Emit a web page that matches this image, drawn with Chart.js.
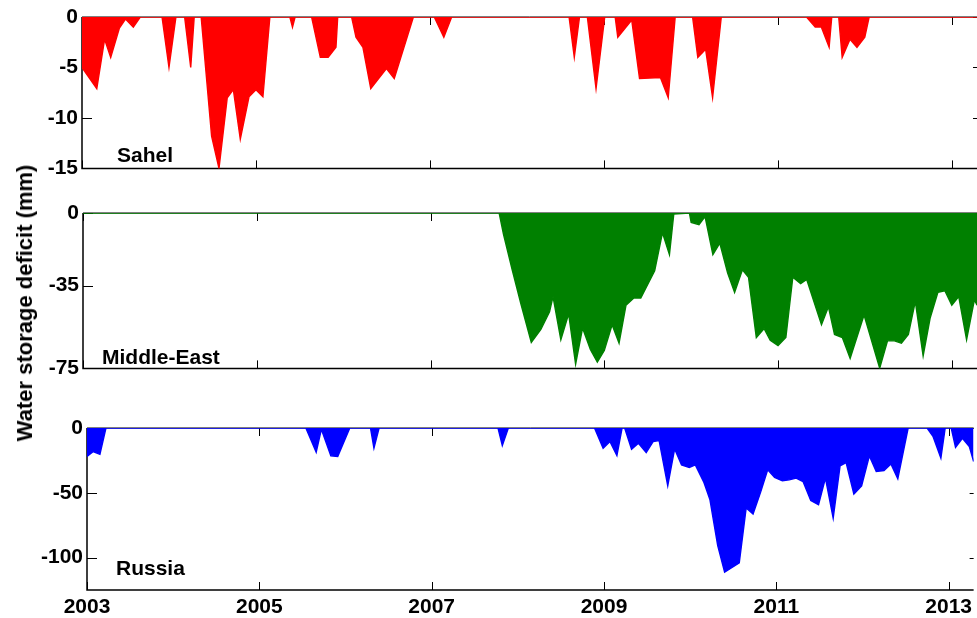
<!DOCTYPE html>
<html>
<head>
<meta charset="utf-8">
<script src="https://cdn.jsdelivr.net/npm/chart.js@4.4.0/dist/chart.umd.min.js"></script>
<style>
html, body { margin:0; padding:0; background:#fff; width:977px; height:618px; overflow:hidden; font-family:"Liberation Sans", Arial, sans-serif; }
canvas { position:absolute; left:0; }
.lbl { position:absolute; font-weight:bold; font-size:21px; line-height:1; color:#000; white-space:nowrap; }
#ylab { position:absolute; left:25px; top:303px; transform:translate(-50%,-50%) rotate(-90deg); font-weight:bold; font-size:22px; line-height:1; white-space:nowrap; }
</style>
</head>
<body>
<canvas id="sahel" width="977" height="185" style="top:0px"></canvas>
<canvas id="mideast" width="977" height="190" style="top:195px"></canvas>
<canvas id="russia" width="977" height="213" style="top:405px"></canvas>
<div class="lbl" style="left:117px;top:144px">Sahel</div>
<div class="lbl" style="left:102px;top:346px">Middle-East</div>
<div class="lbl" style="left:116px;top:557px">Russia</div>
<div id="ylab">Water storage deficit (mm)</div>
<script>
// x axis: decimal years
const X_MIN = 2003, X_MAX = 2013.29;
const YEAR_TICKS = [2003, 2005, 2007, 2009, 2011, 2013];

// Sahel (mm)
const SAHEL_T = [2003.00, 2003.17, 2003.26, 2003.33, 2003.43, 2003.50, 2003.59, 2003.67, 2003.92, 2004.00,
  2004.08, 2004.18, 2004.25, 2004.29, 2004.37, 2004.49, 2004.575, 2004.67, 2004.74, 2004.82,
  2004.92, 2005.00, 2005.08, 2005.16, 2005.39, 2005.42, 2005.45, 2005.64, 2005.74, 2005.83,
  2005.92, 2005.94, 2006.10, 2006.15, 2006.23, 2006.32, 2006.50, 2006.59, 2006.81, 2007.05,
  2007.16, 2007.25, 2008.60, 2008.66, 2008.72, 2008.81, 2008.91, 2009.01, 2009.13, 2009.16,
  2009.32, 2009.41, 2009.65, 2009.74, 2009.82, 2010.02, 2010.08, 2010.17, 2010.25, 2010.35,
  2011.33, 2011.43, 2011.50, 2011.59, 2011.62, 2011.70, 2011.74, 2011.83, 2011.91, 2012.00,
  2012.05, 2013.29];
const SAHEL_V = [-5.0, -7.1, -2.2, -4.0, -1.1, -0.2, -1.0, 0, 0, -5.0,
  0, 0, -5.0, 0, 0, -11.8, -15.0, -8.0, -7.2, -12.1,
  -7.9, -7.2, -7.9, 0, 0, -1.0, 0, 0, -4.0, -4.0,
  -3.0, 0, 0, -2.0, -3.0, -7.1, -5.1, -6.1, 0, 0,
  -2.0, 0, 0, -4.0, 0, 0, -7.1, 0, 0, -2.0,
  -0.3, -6.1, -6.0, -8.0, 0, 0, -4.0, -3.2, -8.0, 0,
  0, -1.0, -1.0, -3.0, 0, 0, -4.0, -2.2, -3.0, -2.0,
  0, 0];

// Middle-East (mm)
const MIDEAST_T = [2003.00, 2007.79, 2007.84, 2007.94, 2008.04, 2008.16, 2008.27, 2008.37, 2008.41, 2008.50,
  2008.59, 2008.67, 2008.75, 2008.84, 2008.92, 2009.00, 2009.09, 2009.17, 2009.25, 2009.34,
  2009.42, 2009.58, 2009.67, 2009.75, 2009.80, 2009.98, 2010.00, 2010.09, 2010.16, 2010.25,
  2010.33, 2010.42, 2010.50, 2010.59, 2010.66, 2010.75, 2010.84, 2010.91, 2011.00, 2011.09,
  2011.17, 2011.26, 2011.33, 2011.50, 2011.58, 2011.65, 2011.74, 2011.83, 2011.99, 2012.17,
  2012.26, 2012.34, 2012.42, 2012.50, 2012.58, 2012.67, 2012.75, 2012.84, 2012.92, 2013.00,
  2013.08, 2013.17, 2013.26, 2013.29];
const MIDEAST_V = [0, 0, -10.3, -27.4, -43.8, -62.5, -56.2, -47.7, -40.3, -61.2,
  -48.7, -73.0, -55.5, -65.9, -72.0, -66.4, -53.9, -62.8, -44.5, -41.0,
  -41.0, -27.9, -9.5, -20.1, -0.5, 0, -4.5, -5.6, -1.7, -20.1,
  -14.6, -29.0, -38.3, -27.4, -31.0, -60.1, -55.8, -61.4, -64.0, -60.1,
  -31.0, -34.1, -32.1, -53.9, -45.3, -58.6, -60.1, -70.2, -49.2, -74.9,
  -61.7, -61.7, -62.8, -58.6, -42.7, -69.0, -50.8, -38.3, -37.5, -44.5,
  -40.3, -61.2, -41.9, -44.5];

// Russia (mm)
const RUSSIA_T = [2003.00, 2003.07, 2003.15, 2003.22, 2005.54, 2005.66, 2005.72, 2005.83, 2005.91, 2006.05,
  2006.29, 2006.33, 2006.39, 2007.77, 2007.82, 2007.89, 2008.89, 2008.99, 2009.07, 2009.15,
  2009.21, 2009.24, 2009.32, 2009.40, 2009.49, 2009.57, 2009.64, 2009.74, 2009.82, 2009.90,
  2009.99, 2010.06, 2010.16, 2010.23, 2010.32, 2010.40, 2010.57, 2010.65, 2010.73, 2010.82,
  2010.90, 2010.98, 2011.07, 2011.15, 2011.23, 2011.31, 2011.40, 2011.49, 2011.57, 2011.66,
  2011.74, 2011.81, 2011.90, 2011.99, 2012.08, 2012.16, 2012.25, 2012.33, 2012.41, 2012.53,
  2012.75, 2012.82, 2012.91, 2012.96, 2013.03, 2013.08, 2013.16, 2013.24, 2013.29];
const RUSSIA_V = [-22.0, -18.2, -20.3, 0, 0, -18.7, -1.0, -21.5, -22.0, 0,
  0, -15.6, 0, 0, -13.6, 0, 0, -15.6, -10.5, -21.3,
  0, 0, -16.4, -11.8, -19.0, -10.5, -9.7, -44.6, -16.2, -28.5,
  -30.5, -28.5, -42.1, -55.4, -90.8, -111.3, -104.1, -61.8, -66.4, -49.0,
  -32.3, -38.2, -40.8, -40.0, -38.7, -41.3, -55.9, -59.2, -38.7, -69.5,
  -29.2, -26.7, -51.0, -44.6, -21.5, -33.6, -32.8, -27.7, -39.2, 0,
  0, -6.7, -23.3, 0, 0, -14.9, -7.9, -14.4, -25.9];

const SAHEL_YTICKS = [-15, -10, -5, 0];
const MIDEAST_YTICKS = [-75, -35, 0];
const RUSSIA_YTICKS = [-100, -50, 0];

const FONT = { family: '"Liberation Sans", Arial, sans-serif', size: 21, weight: 'bold' };

// MATLAB-style axes with inward ticks, drawn under the data (right edge falls outside the picture)
const boxPlugin = {
  id: 'box',
  beforeDatasetsDraw(chart) {
    const { ctx, chartArea: a, scales: { x, y } } = chart;
    ctx.save();
    ctx.strokeStyle = '#000';
    ctx.lineWidth = 1;
    ctx.beginPath();
    x.ticks.forEach(t => {
      const px = Math.round(x.getPixelForValue(t.value)) + 0.5;
      ctx.moveTo(px, a.top); ctx.lineTo(px, a.top + 8);
      ctx.moveTo(px, a.bottom); ctx.lineTo(px, a.bottom - 8);
    });
    y.ticks.forEach(t => {
      const py = Math.round(y.getPixelForValue(t.value)) + 0.5;
      ctx.moveTo(a.left, py); ctx.lineTo(a.left + 10, py);
      ctx.moveTo(a.right, py); ctx.lineTo(a.right - 4, py);
    });
    ctx.stroke();
    // top edge sits exactly under the zero line of the data
    ctx.beginPath();
    ctx.moveTo(a.left, a.top); ctx.lineTo(a.right, a.top);
    ctx.stroke();
    ctx.lineWidth = 1.5;
    ctx.beginPath();
    ctx.moveTo(a.left, a.top); ctx.lineTo(a.left, a.bottom); ctx.lineTo(a.right, a.bottom);
    ctx.stroke();
    ctx.restore();
  }
};

function panel(id, ts, vs, color, yMin, yTicks, left, padTop, padBottom, showX) {
  return new Chart(document.getElementById(id), {
    type: 'line',
    data: { datasets: [{
      data: ts.map((t, i) => ({ x: t, y: vs[i] })),
      borderColor: color, backgroundColor: color, borderWidth: 1.4,
      pointRadius: 0, tension: 0, fill: 'origin'
    }] },
    options: {
      responsive: false, animation: false, events: [],
      layout: { padding: { top: padTop, bottom: padBottom, left: 0, right: 0 } },
      plugins: { legend: { display: false }, tooltip: { enabled: false } },
      scales: {
        x: {
          type: 'linear', min: X_MIN, max: X_MAX,
          afterBuildTicks: s => { s.ticks = YEAR_TICKS.map(v => ({ value: v })); },
          grid: { display: false, drawTicks: false }, border: { display: false },
          ticks: { display: showX, padding: 5, color: '#000', font: FONT, autoSkip: false, maxRotation: 0, callback: v => String(v) },
          afterFit: s => { s.height = showX ? 28 : 0; }
        },
        y: {
          min: yMin, max: 0,
          afterBuildTicks: s => { s.ticks = yTicks.map(v => ({ value: v })); },
          grid: { display: false, drawTicks: false }, border: { display: false },
          ticks: { padding: 4, color: '#000', font: FONT, callback: v => String(v) },
          afterFit: s => { s.width = left; }
        }
      }
    },
    plugins: [boxPlugin]
  });
}

panel('sahel', SAHEL_T, SAHEL_V, '#ff0000', -15, SAHEL_YTICKS, 82, 17, 8, false);
panel('mideast', MIDEAST_T, MIDEAST_V, '#008000', -75, MIDEAST_YTICKS, 83, 18, 12, false);
panel('russia', RUSSIA_T, RUSSIA_V, '#0000ff', -125, RUSSIA_YTICKS, 87, 23, 0, true);
</script>
</body>
</html>
